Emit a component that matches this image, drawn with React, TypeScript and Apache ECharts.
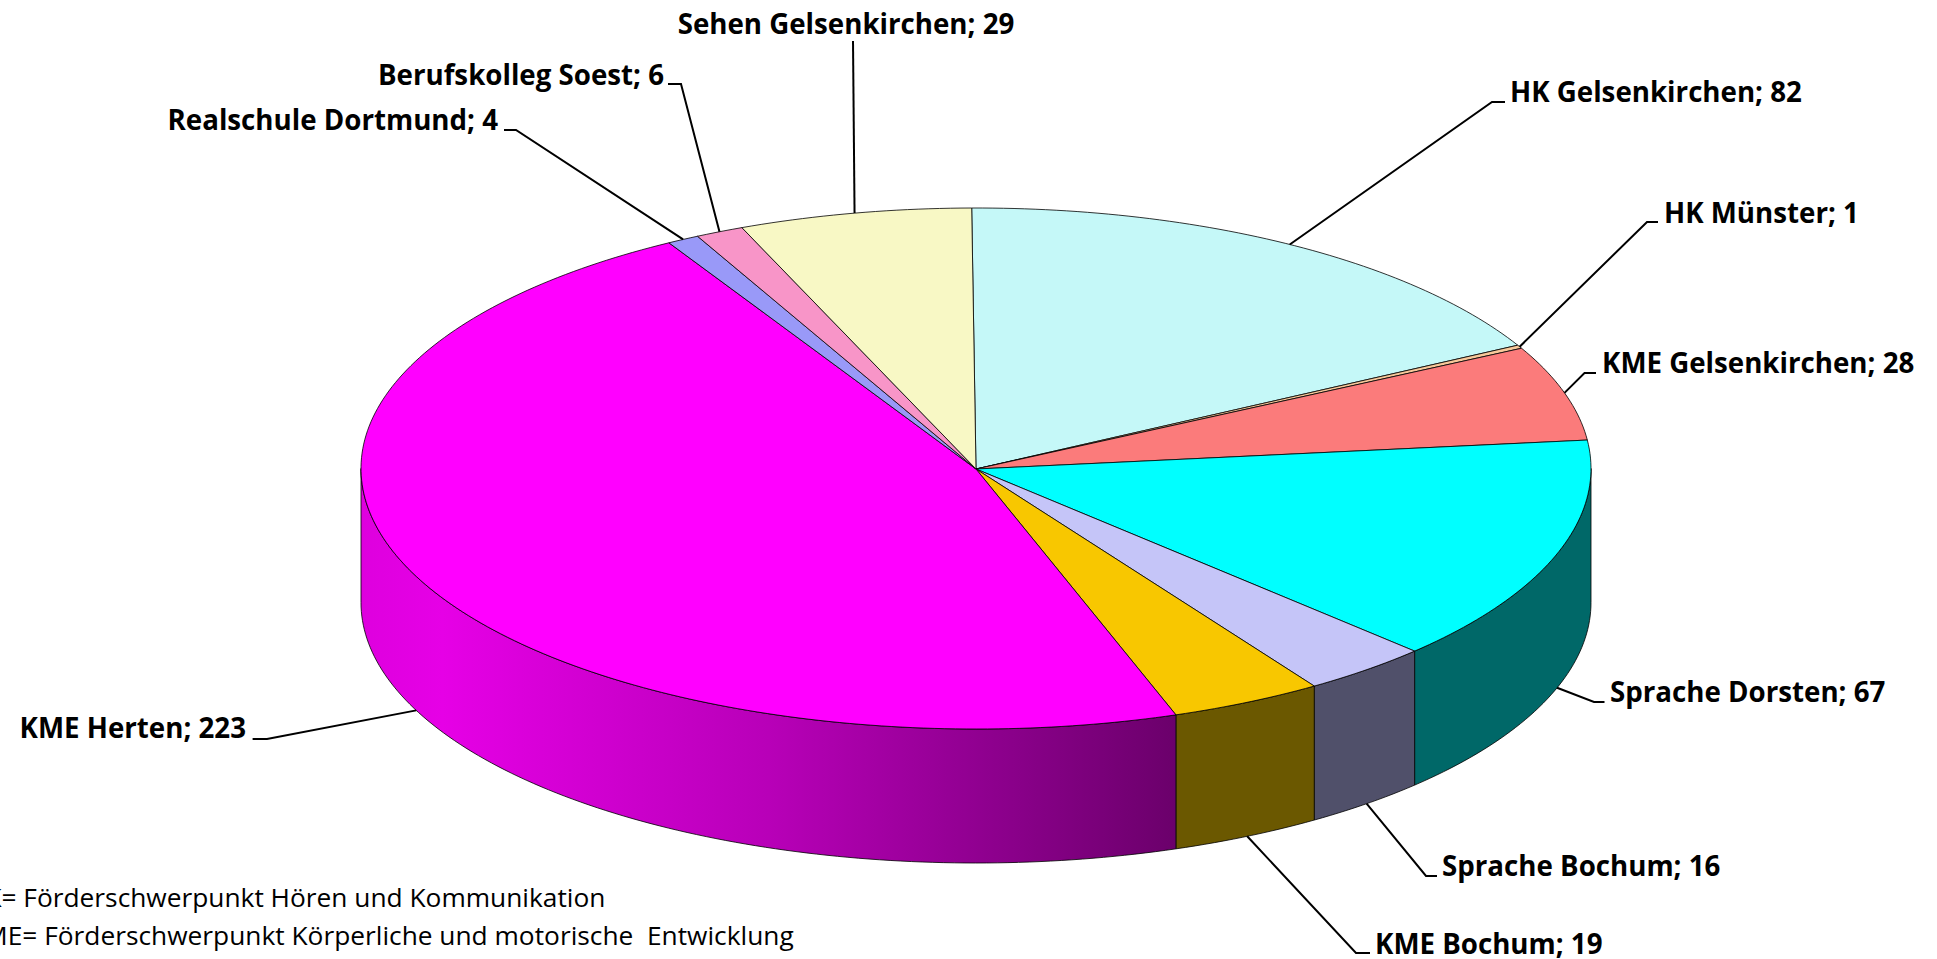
import React, { useEffect, useRef } from "react";
import * as echarts from "echarts";

const categories = [
  "HK Gelsenkirchen",
  "HK Münster",
  "KME Gelsenkirchen",
  "Sprache Dorsten",
  "Sprache Bochum",
  "KME Bochum",
  "KME Herten",
  "Realschule Dortmund",
  "Berufskolleg Soest",
  "Sehen Gelsenkirchen",
];
const values = [82, 1, 28, 67, 16, 19, 223, 4, 6, 29];
const topColors = ["#C5F8F8", "#F8C89A", "#FB7B7B", "#00FFFF", "#C5C5F8", "#F8C700", "#FF00FF", "#9999F8", "#F895C8", "#F8F8C5"];
const sideColors = ["#628080", "#80644D", "#803D3D", "#006868", "#50506A", "#6B5800", "#FF00FF", "#4D4D80", "#804B64", "#808064"];
const legendLines = [
  "HK= Förderschwerpunkt Hören und Kommunikation",
  "KME= Förderschwerpunkt Körperliche und motorische  Entwicklung",
];

// label layout: text anchor, text alignment and leader elbow(s)
const labelX = [1510, 1664, 1602, 1610, 1442, 1375, 246, 498, 664, 846];
const labelY = [91, 212, 362, 691, 865, 943, 727, 119, 74, 23];
const labelAlign = ["left", "left", "left", "left", "left", "left", "right", "right", "right", "center"];
const elbowA: [number, number][] = [[1492, 102], [1647, 222], [1584.5, 373], [1594, 702], [1426, 876], [1356, 953], [267, 739], [516, 130], [681, 84], [853, 41]];
const elbowB: ([number, number] | null)[] = [[1505, 102], [1658, 222], [1596, 373], [1604.5, 702], [1437, 876], [1370, 953], [252.6, 739], [504, 130], [668, 84], null];

const CX = 976;
const CY = 468.5;
const RX = 615;
const RY = 260.5;
const DEPTH = 134;
const START_DEG = -0.4;
const FONT = '"Open Sans", sans-serif';
const LABEL_SIZE = 27.7;
const LEGEND_SIZE = 26.3;

const total = values.reduce((a, b) => a + b, 0);
const rim = (deg: number, dy = 0): [number, number] => {
  const t = (deg * Math.PI) / 180;
  return [CX + RX * Math.sin(t), CY - RY * Math.cos(t) + dy];
};
const arc = (from: number, to: number, dy = 0) => {
  const pts: [number, number][] = [];
  const n = Math.max(1, Math.ceil(Math.abs(to - from)));
  for (let i = 0; i <= n; i++) pts.push(rim(from + ((to - from) * i) / n, dy));
  return pts;
};

function renderItem(params: any, api: any) {
  const i = params.dataIndex;
  const before = values.slice(0, i).reduce((a, b) => a + b, 0);
  const a0 = START_DEG + (before / total) * 360;
  const a1 = a0 + (api.value(0) / total) * 360;
  const mid = (a0 + a1) / 2;
  const children: any[] = [];

  const s0 = Math.max(a0, 90);
  const s1 = Math.min(a1, 270);
  if (s1 > s0) {
    const fill =
      categories[i] === "KME Herten"
        ? new echarts.graphic.LinearGradient(0, 0, 1, 0, [
            { offset: 0, color: "#DE00DE" },
            { offset: 0.1, color: "#E600E6" },
            { offset: 0.5, color: "#B800B8" },
            { offset: 1, color: "#6B006B" },
          ])
        : sideColors[i];
    children.push({
      type: "polygon",
      shape: { points: [...arc(s0, s1), ...arc(s1, s0, DEPTH)] },
      style: { fill, stroke: "#000", lineWidth: 0.8 },
    });
  }
  children.push({
    type: "polygon",
    shape: { points: [[CX, CY + 0.5], ...arc(a0, a1)] },
    style: { fill: topColors[i], stroke: "#000", lineWidth: 0.8 },
  });

  const front = Math.cos((mid * Math.PI) / 180) < 0;
  const leader: [number, number][] = [rim(mid, front ? DEPTH : 0), elbowA[i]];
  if (elbowB[i]) leader.push(elbowB[i] as [number, number]);
  children.push({
    type: "polyline",
    shape: { points: leader },
    style: { fill: "none", stroke: "#000", lineWidth: 2 },
  });
  children.push({
    type: "text",
    style: {
      text: `${categories[i]}; ${api.value(0)}`,
      x: labelX[i],
      y: labelY[i],
      align: labelAlign[i],
      verticalAlign: "middle",
      fill: "#000",
      font: `bold ${LABEL_SIZE}px ${FONT}`,
    },
  });
  return { type: "group", children };
}

export default function App() {
  const ref = useRef<HTMLDivElement>(null);
  useEffect(() => {
    document.body.style.margin = "0";
    document.body.style.overflow = "hidden";
    const chart = echarts.init(ref.current!, null, { renderer: "svg" });
    chart.setOption({
      animation: false,
      backgroundColor: "#fff",
      graphic: legendLines.map((text, k) => ({
        type: "text",
        x: [-34, -32][k],
        y: [897, 935][k],
        style: {
          text,
          verticalAlign: "middle",
          fill: "#000",
          font: `${LEGEND_SIZE}px ${FONT}`,
        },
      })),
      series: [
        {
          type: "custom",
          coordinateSystem: "none",
          silent: true,
          renderItem,
          data: values.map((v, i) => ({ name: categories[i], value: [v] })),
        },
      ],
    });
    return () => chart.dispose();
  }, []);
  return <div ref={ref} style={{ position: "absolute", left: 0, top: 0, width: 1937, height: 959 }} />;
}
